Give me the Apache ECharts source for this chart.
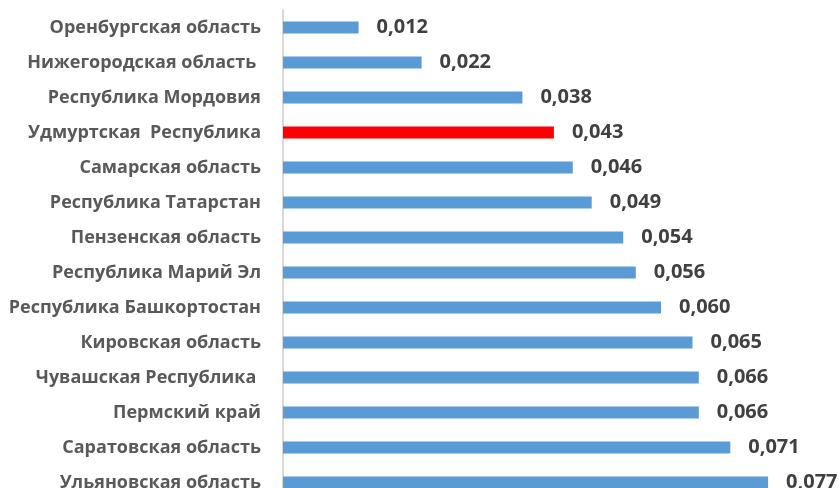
<!DOCTYPE html>
<html>
<head>
<meta charset="utf-8">
<script src="https://cdn.jsdelivr.net/npm/echarts@6/dist/echarts.min.js"></script>
<style>html,body{margin:0;padding:0;background:#fff}#c{width:839px;height:488px}</style>
</head>
<body>
<div id="c"></div>
<script>
const categories = [
  'Оренбургская область',
  'Нижегородская область ',
  'Республика Мордовия',
  'Удмуртская  Республика',
  'Самарская область',
  'Республика Татарстан',
  'Пензенская область',
  'Республика Марий Эл',
  'Республика Башкортостан',
  'Кировская область',
  'Чувашская Республика ',
  'Пермский край',
  'Саратовская область',
  'Ульяновская область'
];
const values = [0.012, 0.022, 0.038, 0.043, 0.046, 0.049, 0.054, 0.056, 0.060, 0.065, 0.066, 0.066, 0.071, 0.077];
const highlightCategory = 'Удмуртская  Республика';

const chart = echarts.init(document.getElementById('c'));
chart.setOption({
  animation: false,
  grid: { left: 283, right: 52, top: 10, bottom: -12, containLabel: false, outerBoundsMode: 'none' },
  xAxis: { type: 'value', min: 0, max: 0.08, show: false },
  yAxis: {
    type: 'category', data: categories, inverse: true,
    axisLine: { show: true, lineStyle: { color: '#d9d9d9', width: 2 } },
    axisTick: { show: false },
    axisLabel: { margin: 22, color: '#595959', fontFamily: 'Open Sans', fontWeight: 'bold', fontSize: 18 }
  },
  series: [{
    type: 'bar', barWidth: 12,
    data: values.map((v, i) => ({ value: v, itemStyle: { color: categories[i] === highlightCategory ? '#ff0000' : '#5b9bd5' } })),
    label: {
      show: true, position: 'right', distance: 18,
      color: '#404040', fontFamily: 'Open Sans', fontWeight: 'bold', fontSize: 20,
      formatter: p => p.value.toFixed(3).replace('.', ',')
    }
  }]
});
</script>
</body>
</html>
